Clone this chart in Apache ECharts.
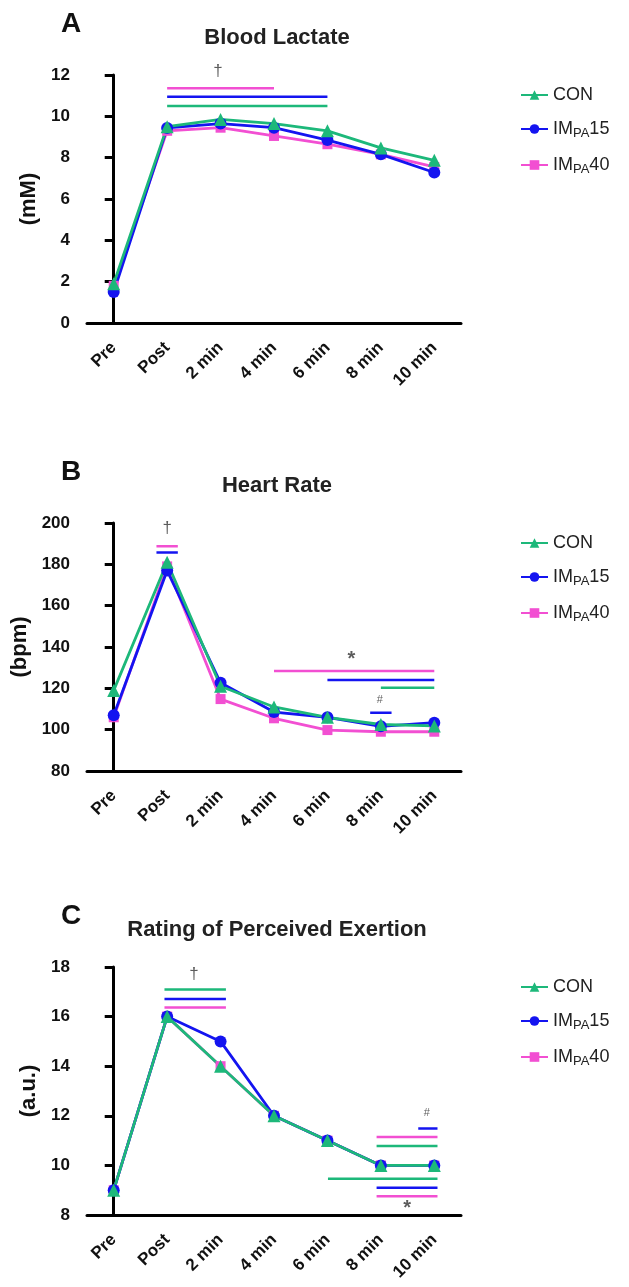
<!DOCTYPE html>
<html>
<head>
<meta charset="utf-8">
<script src="https://cdn.jsdelivr.net/npm/echarts@6/dist/echarts.min.js"></script>
<style>
html,body{margin:0;padding:0;background:#fff;}
#chart{width:629px;height:1287px;}
</style>
</head>
<body>
<div id="chart"></div>
<script>
// ---------- DATA ----------
const categories = ['Pre', 'Post', '2 min', '4 min', '6 min', '8 min', '10 min'];
const groups = ['CON', 'IMPA15', 'IMPA40'];

// Blood Lactate (mM)
const lactateCON    = [1.9, 9.5, 9.85, 9.65, 9.3, 8.47, 7.87];
const lactateIMPA15 = [1.5, 9.44, 9.65, 9.45, 8.85, 8.16, 7.28];
const lactateIMPA40 = [1.8, 9.3, 9.45, 9.05, 8.65, 8.16, 7.55];

// Heart Rate (bpm)
const hrCON    = [119, 181, 121, 111, 106, 102.5, 101.8];
const hrIMPA15 = [107, 177, 122.7, 108.5, 106, 101.6, 103.4];
const hrIMPA40 = [106, 179, 114.8, 105.5, 99.8, 99, 99];

// Rating of Perceived Exertion (a.u.)
const rpeCON    = [9, 16, 14, 12, 11, 10, 10];
const rpeIMPA15 = [9, 16, 15, 12, 11, 10, 10];
const rpeIMPA40 = [9, 16, 14, 12, 11, 10, 10];

// y-axis ticks: [min, max, step]
const lactateTicks = [0, 12, 2];
const hrTicks = [80, 200, 20];
const rpeTicks = [8, 18, 2];

// significance bars: [from category index, to category index, y value]
const sigLactate = {
  CON:    [[1, 4, 10.5]],
  IMPA15: [[1, 4, 10.95]],
  IMPA40: [[1, 3, 11.36]]
};
const sigHR = {
  CON:    [[5, 6, 120.3]],
  IMPA15: [[0.8, 1.2, 185.7], [4, 6, 124], [4.8, 5.2, 108.2]],
  IMPA40: [[0.8, 1.2, 188.7], [3, 6, 128.4]]
};
const sigRPE = {
  CON:    [[0.95, 2.1, 17.09], [4.92, 6.06, 10.78], [4.01, 6.06, 9.46]],
  IMPA15: [[0.95, 2.1, 16.71], [5.7, 6.06, 11.49], [4.92, 6.06, 9.1]],
  IMPA40: [[0.95, 2.1, 16.37], [4.92, 6.06, 11.15], [4.92, 6.06, 8.76]]
};

// significance symbols: [text, category index, y value]
const marksLactate = [['†', 1.95, 12.2]];
const marksHR = [['†', 1.0, 197.5], ['*', 4.45, 134.0], ['#', 4.98, 114.3]];
const marksRPE = [['†', 1.5, 17.7], ['#', 5.86, 12.12], ['*', 5.49, 8.25]];

const panelTitles = ['Blood Lactate', 'Heart Rate', 'Rating of Perceived Exertion'];
const panelLetters = ['A', 'B', 'C'];
const yNames = ['(mM)', '(bpm)', '(a.u.)'];

// ---------- STYLE ----------
const FONT = 'Liberation Sans, Arial, sans-serif';
const colors = { CON: '#1db87a', IMPA15: '#1414f0', IMPA40: '#f24fd2' };
const symbols = { CON: 'triangle', IMPA15: 'circle', IMPA40: 'rect' };
const symbolSizes = { CON: 13, IMPA15: 12, IMPA40: 10 };
const markFont = { '†': 17, '*': 20, '#': 11 };
const gridLeft = 87, gridWidth = 374, gridHeight = 248;
const gridTops = [75, 523, 967];

const panelData = [
  { CON: lactateCON, IMPA15: lactateIMPA15, IMPA40: lactateIMPA40, ticks: lactateTicks, sig: sigLactate, marks: marksLactate },
  { CON: hrCON, IMPA15: hrIMPA15, IMPA40: hrIMPA40, ticks: hrTicks, sig: sigHR, marks: marksHR },
  { CON: rpeCON, IMPA15: rpeIMPA15, IMPA40: rpeIMPA40, ticks: rpeTicks, sig: sigRPE, marks: marksRPE }
];

const grid = [], xAxis = [], yAxis = [], series = [], title = [], legend = [];

panelData.forEach((pd, p) => {
  const top = gridTops[p];
  grid.push({ left: gridLeft, top: top, width: gridWidth, height: gridHeight, containLabel: false });
  xAxis.push({
    type: 'category', gridIndex: p, data: categories, boundaryGap: true,
    axisLine: { lineStyle: { color: '#000', width: 3 } },
    axisTick: { alignWithLabel: true, length: 10, lineStyle: { width: 3, color: '#000' } },
    axisLabel: { rotate: 45, margin: 22, color: '#111', fontWeight: 'bold', fontSize: 17, fontFamily: FONT },
    splitLine: { show: false }
  });
  xAxis.push({ type: 'value', gridIndex: p, min: -0.5, max: 6.5, show: false, splitLine: { show: false } });
  yAxis.push({
    type: 'value', gridIndex: p, min: pd.ticks[0], max: pd.ticks[1], interval: pd.ticks[2],
    name: yNames[p], nameLocation: 'middle', nameGap: 43,
    nameTextStyle: { fontSize: 22, fontWeight: 'bold', color: '#111', fontFamily: FONT },
    axisLine: { show: true, lineStyle: { color: '#000', width: 3 } },
    axisTick: { show: true, length: 9, lineStyle: { width: 3, color: '#000' } },
    axisLabel: { margin: 17, color: '#111', fontWeight: 'bold', fontSize: 17, fontFamily: FONT },
    splitLine: { show: false }
  });
  title.push({
    text: panelLetters[p], left: 56, top: top - 70,
    textStyle: { fontSize: 28, fontWeight: 'bold', color: '#111', fontFamily: FONT }
  });
  title.push({
    text: panelTitles[p], left: 272, top: top - 53, textAlign: 'center',
    textStyle: { fontSize: 22, fontWeight: 'bold', color: '#222', fontFamily: FONT }
  });
  legend.push({
    data: groups, orient: 'vertical', left: 515, top: top + 6,
    itemWidth: 27, itemHeight: 12, itemGap: 14,
    formatter: n => n === 'CON' ? '{n|CON}' : '{n|IM}{s|PA}{n|' + n.slice(4) + '}',
    textStyle: {
      fontFamily: FONT, color: '#222', fontSize: 18,
      rich: {
        n: { fontSize: 18, lineHeight: 22, fontFamily: FONT, color: '#222' },
        s: { fontSize: 13, lineHeight: 22, padding: [9, 0, 0, 0], fontFamily: FONT, color: '#222' }
      }
    }
  });
  // significance bars (drawn first, underneath)
  groups.forEach(g => {
    pd.sig[g].forEach(b => {
      series.push({
        type: 'line', name: 'sig-' + g, xAxisIndex: 2 * p + 1, yAxisIndex: p,
        data: [[b[0], b[2]], [b[1], b[2]]], symbol: 'none', clip: false, silent: true,
        lineStyle: { color: colors[g], width: 2.5 }, z: 1
      });
    });
  });
  // main data series: pink, blue, then green on top
  ['IMPA40', 'IMPA15', 'CON'].forEach(g => {
    series.push({
      type: 'line', name: g, xAxisIndex: 2 * p, yAxisIndex: p,
      data: pd[g], symbol: symbols[g], symbolSize: symbolSizes[g],
      showAllSymbol: true, clip: false,
      lineStyle: { color: colors[g], width: 2.8 },
      itemStyle: { color: colors[g], borderWidth: 0 },
      z: 3
    });
  });
  // significance symbols as text
  pd.marks.forEach(m => {
    series.push({
      type: 'scatter', name: 'mark', xAxisIndex: 2 * p + 1, yAxisIndex: p,
      data: [[m[1], m[2]]], symbolSize: 1, clip: false, silent: true,
      itemStyle: { color: 'rgba(0,0,0,0)' },
      label: { show: true, position: 'inside', formatter: m[0], color: '#333',
        fontSize: markFont[m[0]], fontWeight: m[0] === '*' ? 'bold' : 'normal', fontFamily: FONT },
      z: 4
    });
  });
});

const chart = echarts.init(document.getElementById('chart'), null, { renderer: 'canvas' });
chart.setOption({
  animation: false,
  backgroundColor: '#fff',
  title, legend, grid, xAxis, yAxis, series
});
</script>
</body>
</html>
